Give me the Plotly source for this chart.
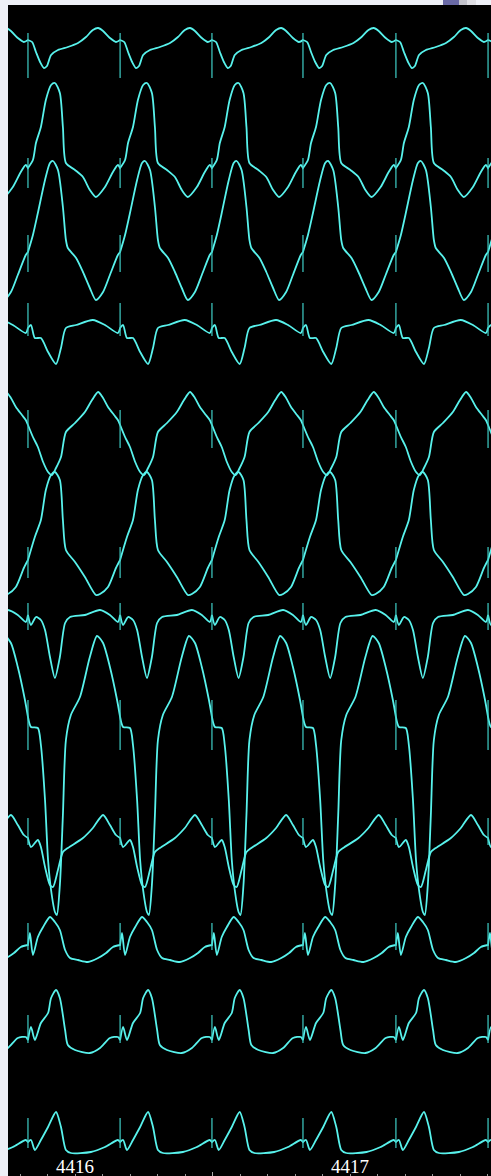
import plotly.graph_objects as go

# Beat (pacing spike) onset times in seconds
BEAT_TIMES = [4415.494, 4415.829, 4416.164, 4416.498, 4416.829, 4417.167, 4417.502, 4417.837]

# One-beat templates per lead: (offset ms after spike, amplitude, positive = up)
LEAD_01 = [(0, 0), (15, -2), (29, -12), (44, -22), (58, -28), (69, -26), (84, -15), (109, -10), (145, -7),
           (182, -3), (211, 3), (236, 10), (255, 12), (273, 9), (298, 2), (320, -2), (335, 0)]
LEAD_02 = [(0, 0), (18, 8), (29, 25), (47, 41), (65, 68), (84, 83), (98, 85), (116, 75), (127, 41), (138, 5),
           (171, -2), (200, -9), (225, -22), (247, -29), (280, -19), (309, -4), (327, 3), (335, 0)]
LEAD_03 = [(0, 0), (18, 17), (36, 39), (62, 72), (80, 89), (91, 91), (109, 82), (127, 45), (138, 12), (145, 4),
           (175, -6), (200, -20), (225, -36), (247, -48), (273, -40), (298, -23), (327, -3), (335, 0)]
LEAD_04 = [(0, 0), (11, 3), (25, -10), (47, -10), (73, -24), (102, -36), (120, -20), (138, 0), (175, 3),
           (236, 8), (280, 3), (327, -5), (335, 0)]
LEAD_05 = [(0, 0), (18, -12), (36, -22), (55, -37), (73, -47), (87, -50), (102, -43), (120, -32), (138, -7),
           (171, 2), (207, 13), (233, 25), (255, 33), (273, 27), (291, 18), (313, 10), (327, 5), (335, 0)]
LEAD_06 = [(0, 0), (25, 23), (47, 40), (65, 70), (84, 85), (98, 88), (116, 80), (127, 40), (138, 10),
           (171, -2), (207, -17), (247, -35), (262, -34), (291, -27), (320, -8), (335, 0)]
LEAD_07 = [(0, 0), (11, -10), (29, -2), (47, -5), (62, -15), (80, -42), (98, -63), (116, -42), (135, -8),
           (153, -2), (207, 0), (262, 5), (298, 0), (327, -7), (335, 0)]
LEAD_08 = [(0, 0), (11, -10), (36, -11), (47, -28), (62, -83), (73, -143), (84, -173), (98, -195), (105, -198),
           (116, -168), (127, -98), (138, -23), (156, 2), (189, 20), (225, 60), (251, 81), (273, 74), (298, 50),
           (324, 17), (335, 0)]
LEAD_09 = [(0, 0), (11, -9), (36, -2), (47, -9), (62, -29), (80, -47), (91, -49), (109, -32), (127, -14),
           (145, -10), (200, 0), (236, 10), (273, 23), (298, 13), (320, 3), (335, 0)]
LEAD_10 = [(0, 0), (7, 12), (18, -10), (36, 8), (55, 18), (80, 28), (98, 23), (116, 15), (135, -5), (153, -13),
           (182, -15), (218, -17), (255, -13), (284, -8), (309, -2), (335, 0)]
LEAD_11 = [(0, 0), (11, 13), (25, 0), (47, 17), (73, 27), (84, 42), (102, 50), (116, 42), (135, 10), (145, -5),
           (171, -10), (225, -13), (262, -8), (298, 2), (327, 3), (335, 0)]
LEAD_12 = [(0, 0), (11, 2), (25, -8), (47, 2), (73, 15), (102, 30), (120, 15), (138, -8), (156, -11),
           (229, -10), (280, -5), (327, 2), (335, 0)]

# Pacing spike extremes per lead
SPIKE_HI = [7, 10, 17, 25, 15, 13, 12, 17, 20, 22, 25, 24]
SPIKE_LO = [-38, -20, -20, -8, -23, -18, -15, -33, -7, -5, -3, -6]

# Axis tick labels (seconds)
TICK_LABELS = [4416, 4417]

LEADS = [LEAD_01, LEAD_02, LEAD_03, LEAD_04, LEAD_05, LEAD_06,
         LEAD_07, LEAD_08, LEAD_09, LEAD_10, LEAD_11, LEAD_12]

# layout: vertical position of each lead's baseline (pixels from top)
BASELINES = [40, 168, 252, 328, 425, 560, 615, 717, 838, 945, 1040, 1142]

LINE_COLOR = "#58F2EC"
SPIKE_COLOR = "#3FCFC8"
T_NOMINAL = 0.335

fig = go.Figure()
for k, (tmpl, base) in enumerate(zip(LEADS, BASELINES)):
    xs, ys, sx, sy = [], [], [], []
    for i, t0 in enumerate(BEAT_TIMES):
        rr = (BEAT_TIMES[i + 1] - t0) if i + 1 < len(BEAT_TIMES) else T_NOMINAL
        sc = rr / T_NOMINAL
        for ms, a in tmpl:
            xs.append(t0 + ms / 1000.0 * sc)
            ys.append(-base + a)
        sx += [t0, t0, None]
        sy += [-base + SPIKE_HI[k], -base + SPIKE_LO[k], None]
    fig.add_trace(go.Scatter(x=xs, y=ys, mode="lines",
                             line=dict(color=LINE_COLOR, width=1.8, shape="spline", smoothing=0.7),
                             hoverinfo="skip", showlegend=False))
    fig.add_trace(go.Scatter(x=sx, y=sy, mode="lines", line=dict(color=SPIKE_COLOR, width=1.2),
                             hoverinfo="skip", showlegend=False))

x0 = 4416 - 67 / 275.0
x1 = 4416 + 416 / 275.0

annotations = []
for lab in TICK_LABELS:
    annotations.append(dict(x=lab, y=-1166, xref="x", yref="y", text=str(lab), showarrow=False,
                            font=dict(family="Liberation Serif, DejaVu Serif, serif", size=19, color="white"),
                            xanchor="center", yanchor="middle"))

shapes = [
    dict(type="rect", xref="paper", yref="paper", x0=(443 - 8) / 483, x1=(459 - 8) / 483,
         y0=1, y1=1 + 5 / 1171, fillcolor="#6A6AA6", line=dict(width=0), layer="above"),
    dict(type="rect", xref="paper", yref="paper", x0=(459 - 8) / 483, x1=(467 - 8) / 483,
         y0=1, y1=1 + 5 / 1171, fillcolor="#C2C2CC", line=dict(width=0), layer="above"),
    dict(type="rect", xref="paper", yref="paper", x0=(467 - 8) / 483, x1=(476 - 8) / 483,
         y0=1, y1=1 + 5 / 1171, fillcolor="#DEDEE4", line=dict(width=0), layer="above"),
]

fig.update_layout(
    width=491, height=1176,
    margin=dict(l=8, r=0, t=5, b=0, pad=0),
    paper_bgcolor="#EEF0F7",
    plot_bgcolor="black",
    annotations=annotations,
    shapes=shapes,
    xaxis=dict(range=[x0, x1], showgrid=False, zeroline=False, showline=False,
               showticklabels=False, tickvals=[4416.5], ticks="inside", ticklen=4,
               tickcolor="#AAAAAA", tickwidth=1,
               minor=dict(ticks="inside", dtick=0.1, tick0=4416, ticklen=2, tickcolor="#999999")),
    yaxis=dict(range=[-1176, -5], visible=False, showgrid=False, zeroline=False),
)

fig.write_html("out.html", config={"displayModeBar": False},
               post_script="document.body.style.margin='0px';document.body.style.overflow='hidden';")
